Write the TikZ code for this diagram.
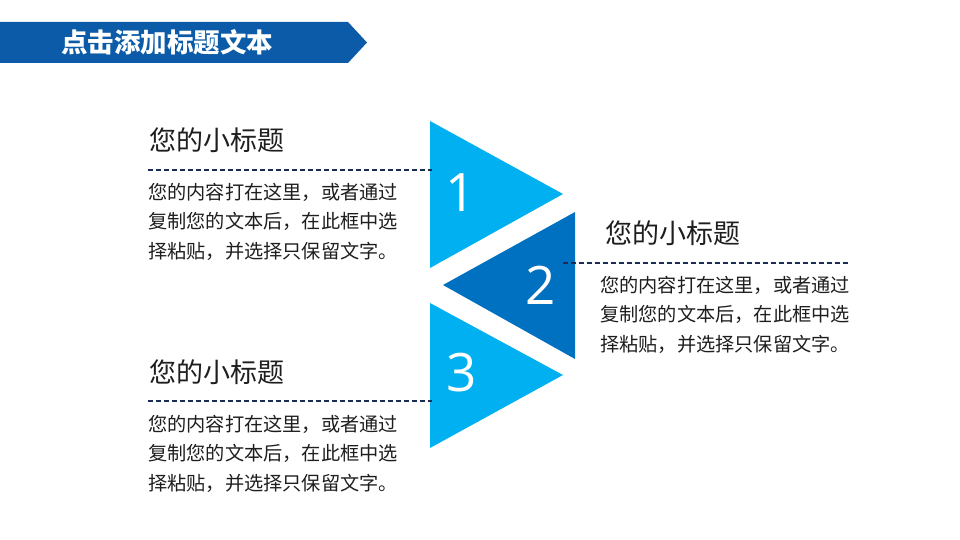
\documentclass[tikz,border=0pt]{standalone}
\usepackage{fontspec}
\setmainfont{Open Sans}
\newfontfamily\cjk{Noto Sans CJK SC}
\usetikzlibrary{positioning}

\definecolor{bannerblue}{RGB}{11,91,168}
\definecolor{skyblue}{RGB}{0,176,240}
\definecolor{deepblue}{RGB}{0,112,192}
\definecolor{rulenavy}{RGB}{25,45,85}
\definecolor{textgray}{RGB}{30,30,30}

\begin{document}
\begin{tikzpicture}[x=1pt,y=-1pt]
\tikzstyle{every node}=[inner sep=0pt]
\tikzstyle{heading}=[anchor=west, text=textgray, font=\cjk\fontsize{27}{30}\selectfont]
\tikzstyle{bodytext}=[anchor=north west, align=left, text=textgray, font=\cjk\fontsize{19.2}{29.5}\selectfont]
\tikzstyle{numeral}=[text=white, font=\fontsize{53}{53}\selectfont]
\tikzstyle{rule}=[draw=rulenavy, line width=1.3pt, dash pattern=on 5pt off 3pt]
\useasboundingbox (0,0) rectangle (960,540);

% title banner
\fill[bannerblue] (0,22) -- (348,22) -- (367,42.5) -- (348,63) -- (0,63) -- cycle;
\node[anchor=west, text=white, font=\cjk\bfseries\fontsize{26.5}{30}\selectfont] (title) at (61,42.5) {点击添加标题文本};

% triangles
\fill[skyblue] (430,121) -- (563,194) -- (430,268) -- cycle;
\fill[deepblue] (575,212) -- (575,359) -- (443,285) -- cycle;
\fill[skyblue] (430,303) -- (563,375) -- (430,448) -- cycle;
\node[numeral] (one) at (461,193) {1};
\node[numeral] (two) at (541,285) {2};
\node[numeral] (three) at (462,373) {3};

% item 1
\node[heading] (head1) at (149,140) {您的小标题};
\coordinate (r1a) at (148,170);
\coordinate (r1b) at (432,170);
\draw[rule] (r1a) -- (r1b);
\node[bodytext] (body1) at (148,183) {您的内容打在这里，或者通过\\复制您的文本后，在此框中选\\择粘贴，并选择只保留文字。};

% item 2
\node[heading] (head2) at (605,233) {您的小标题};
\coordinate (r2a) at (563,263);
\coordinate (r2b) at (850,263);
\draw[rule] (r2a) -- (r2b);
\node[bodytext] (body2) at (600,276) {您的内容打在这里，或者通过\\复制您的文本后，在此框中选\\择粘贴，并选择只保留文字。};

% item 3
\node[heading] (head3) at (149,372) {您的小标题};
\coordinate (r3a) at (148,401);
\coordinate (r3b) at (432,401);
\draw[rule] (r3a) -- (r3b);
\node[bodytext] (body3) at (148,415) {您的内容打在这里，或者通过\\复制您的文本后，在此框中选\\择粘贴，并选择只保留文字。};
\end{tikzpicture}
\end{document}
